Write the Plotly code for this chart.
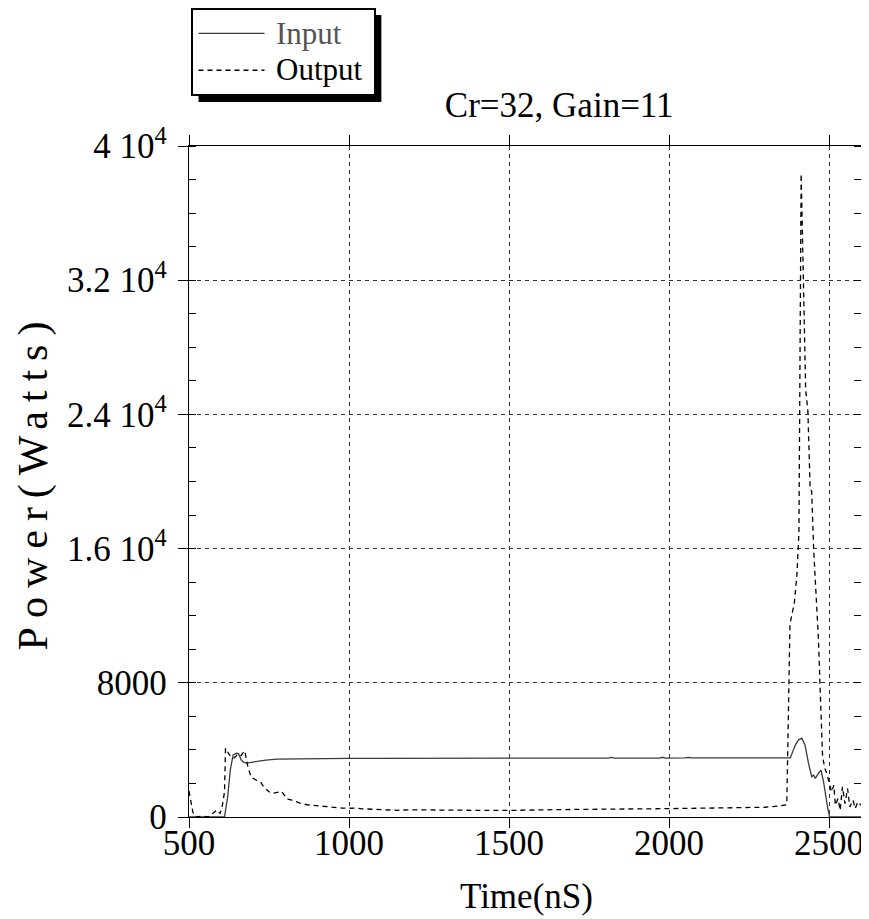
import plotly.graph_objects as go

# ---------------- data ----------------
time_in = [500, 540, 580, 611, 621, 629, 638, 648, 655, 663, 671, 681, 695, 712, 740, 775, 830, 900,
           1000, 1100, 1200, 1300, 1400, 1500, 1510, 1520, 1570, 1580, 1590, 1650, 1660, 1670,
           1730, 1740, 1750, 1810, 1820, 1830, 1890, 1900, 1910, 1970, 1980, 1990, 2050, 2060, 2070,
           2130, 2140, 2150, 2210, 2220, 2230, 2290, 2300, 2310, 2350, 2365, 2379, 2395, 2405, 2415,
           2425, 2436, 2446, 2452, 2457, 2467, 2475, 2483, 2490, 2496, 2502, 2530, 2600]
power_in = [0, 0, 0, 0, 1225, 2810, 3700, 3810, 3770, 3410, 3250, 3210, 3260, 3310, 3390, 3450, 3470, 3490,
            3490, 3495, 3500, 3500, 3500, 3505, 3545, 3505, 3510, 3550, 3510, 3510, 3550, 3510,
            3515, 3555, 3515, 3515, 3550, 3515, 3515, 3550, 3515, 3515, 3560, 3515, 3520, 3555, 3520,
            3520, 3560, 3520, 3520, 3555, 3520, 3520, 3560, 3520, 3520, 3560, 3520, 4300, 4600, 4700,
            4300, 3200, 2400, 2500, 2300, 2600, 2800, 2100, 1200, 535, 0, 0, 0]

time_out = [500, 506, 512, 520, 545, 560, 577, 588, 597, 603, 611, 614, 620, 630, 640, 650, 660, 674,
            684, 694, 710, 723, 733, 749, 760, 775, 790, 806, 816, 837, 847, 868, 899, 920, 941, 960,
            977, 1000, 1019, 1040, 1065, 1085, 1107, 1130, 1149, 1185, 1220, 1260, 1300, 1350, 1400,
            1450, 1500, 1550, 1600, 1650, 1700, 1750, 1800, 1850, 1900, 1950, 2000, 2050, 2100, 2150,
            2200, 2250, 2300, 2340, 2368, 2373, 2378, 2392, 2400, 2406, 2410, 2413, 2420, 2427, 2434,
            2441, 2446, 2452, 2460, 2467, 2472, 2477, 2480, 2487, 2493, 2500, 2508, 2515, 2520, 2528,
            2535, 2542, 2550, 2558, 2565, 2575, 2582, 2590, 2600]
power_out = [1550, 900, 300, 0, 50, 0, 240, 420, 200, 535, 1500, 4100, 3900, 3600, 3510, 3700, 3600, 3950,
             3000, 2380, 2200, 2120, 1800, 1520, 1400, 1450, 1520, 1070, 1030, 900, 830, 730, 670, 620, 595, 560,
             535, 520, 535, 490, 470, 450, 430, 420, 400, 430, 420, 410, 400, 400, 390,
             390, 390, 420, 440, 440, 450, 450, 460, 470, 480, 490, 500, 520, 530, 540,
             550, 560, 580, 650, 730, 6000, 11500, 12800, 14500, 17000, 30000, 38350, 32000, 25500, 24200,
             19600, 19400, 16000, 13100, 10600, 7800, 5200, 3600, 2900, 2600, 2100, 1500, 1900, 700, 1100,
             400, 1800, 800, 1700, 600, 1000, 500, 900, 700]

x_ticks = [500, 1000, 1500, 2000, 2500]
y_ticks = [0, 8000, 16000, 24000, 32000, 40000]
y_ticktext = ["0", "8000", "1.6 10<sup>4</sup>", "2.4 10<sup>4</sup>", "3.2 10<sup>4</sup>", "4 10<sup>4</sup>"]

FONT = "Liberation Serif"

# figure geometry (figure pixels)
W, H = 869, 919
L, R, T, B = 180.5, 16, 138, 109.7
PW, PH = W - L - R, H - T - B


def px2paper_x(px):
    return (px - L) / PW


def px2paper_y(py):
    return (H - B - py) / PH


LEG_SPAN = '<span style="font-size:31px">'
fig = go.Figure()
fig.add_trace(go.Scatter(
    x=time_in, y=power_in, mode="lines",
    name='&nbsp;' + LEG_SPAN + '<span style="color:#555555">Input</span></span>&nbsp;',
    line=dict(color="#3a3a3a", width=1.3),
))
fig.add_trace(go.Scatter(
    x=time_out, y=power_out, mode="lines", name='&nbsp;' + LEG_SPAN + 'Output</span>&nbsp;',
    line=dict(color="black", width=1.3, dash="5px,4px"),
))

# legend box (figure px) and its drop shadow
lx0, ly0 = 183, 0
lw, lh = 183, 87
sh = 7
fig.add_shape(type="rect", xref="paper", yref="paper",
              x0=px2paper_x(lx0 + sh), x1=px2paper_x(lx0 + lw + sh),
              y0=px2paper_y(ly0 + lh + sh), y1=px2paper_y(ly0 + sh),
              fillcolor="black", line=dict(width=0), layer="above")

fig.add_annotation(text="Time(nS)", xref="paper", yref="paper",
                   x=px2paper_x(518), y=px2paper_y(889), xanchor="center", yanchor="middle",
                   showarrow=False, font=dict(family=FONT, size=35, color="black"))

fig.update_layout(
    width=W, height=H,
    margin=dict(l=L, r=R, t=T, b=B, autoexpand=False),
    paper_bgcolor="white", plot_bgcolor="white",
    font=dict(family=FONT, size=35, color="black"),
    title=dict(text="Cr=32, Gain=11", font=dict(family=FONT, size=35, color="black"),
               xref="paper", x=px2paper_x(551), xanchor="center",
               yref="container", y=1 - 97 / H, yanchor="middle"),
    showlegend=True,
    legend=dict(x=px2paper_x(lx0), y=px2paper_y(ly0), xanchor="left", yanchor="top",
                bgcolor="white", bordercolor="black", borderwidth=2,
                font=dict(family=FONT, size=26, color="black"),
                itemwidth=66, tracegroupgap=0),
    xaxis=dict(
        range=[500, 2600], tickvals=x_ticks, ticktext=[str(v) for v in x_ticks],
        showline=True, linecolor="black", linewidth=1.3, mirror="ticks",
        ticks="outside", ticklen=10, tickcolor="black", tickwidth=1.2,
        showgrid=True, gridcolor="#333333", gridwidth=1, griddash="4px,4px",
        zeroline=False, tickfont=dict(family=FONT, size=35), ticklabelstandoff=-15,
        automargin=False,
    ),
    yaxis=dict(
        range=[0, 40000], tickvals=y_ticks, ticktext=y_ticktext,
        showline=True, linecolor="black", linewidth=1.3, mirror="ticks",
        ticks="outside", ticklen=10, tickcolor="black", tickwidth=1.2,
        showgrid=True, gridcolor="#333333", gridwidth=1, griddash="4px,4px",
        zeroline=False, tickfont=dict(family=FONT, size=35), ticklabelstandoff=4,
        minor=dict(dtick=2000, ticks="inside", ticklen=7, tickcolor="black", tickwidth=1, showgrid=False),
        title=dict(text='<span style="letter-spacing:9px">Power(Watts)</span>',
                   font=dict(family=FONT, size=42), standoff=6),
        automargin=False,
    ),
    yaxis2=dict(
        range=[0, 40000], overlaying="y", side="right", anchor="x",
        tickvals=y_ticks, ticks="", showticklabels=False, showgrid=False, showline=False,
        zeroline=False,
        minor=dict(dtick=2000, ticks="inside", ticklen=7, tickcolor="black", tickwidth=1, showgrid=False),
    ),
)

fig.write_html("out.html")
